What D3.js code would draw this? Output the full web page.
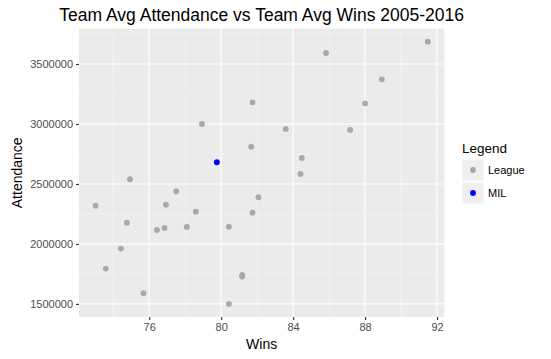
<!DOCTYPE html>
<html><head><meta charset="utf-8">
<script src="https://cdn.jsdelivr.net/npm/d3@7"></script>
<style>body{margin:0;background:#fff;} text{font-family:"Liberation Sans",Arial,Helvetica,sans-serif;}</style>
</head><body><svg id="c" width="551" height="359"></svg>
<script>
const leagueWins = [81.74,78.93,81.67,91.48,85.83,88.93,88.0,83.59,87.17,84.48,84.41,74.93,73.02,77.5,76.93,78.59,74.76,76.43,76.85,78.09,80.43,82.07,81.74,74.43,73.59,81.17,81.17,75.68,80.43];
const leagueAttendance = [3180833,3000000,2810833,3685833,3591667,3372500,3172500,2958333,2950000,2716667,2583333,2539167,2319167,2439167,2327500,2269167,2177500,2116667,2133333,2141667,2144167,2389167,2260833,1960833,1794167,1741667,1727500,1589167,1500000];
const milWins = [79.76];
const milAttendance = [2680833];
const xTicks = [76,80,84,88,92];
const yTicks = [1500000,2000000,2500000,3000000,3500000];
const legendLabels = ["League","MIL"];
const legendColors = ["#A9A9A9","#0000FF"];

const svg = d3.select("#c");
const L = 79, R = 444.3, T = 28.6, B = 317;
const allW = leagueWins.concat(milWins), allA = leagueAttendance.concat(milAttendance);
const [wmin,wmax] = d3.extent(allW), [amin,amax] = d3.extent(allA);
const ew = (wmax-wmin)*0.05, ea = (amax-amin)*0.05;
const x = d3.scaleLinear().domain([wmin-ew,wmax+ew]).range([L,R]);
const y = d3.scaleLinear().domain([amin-ea,amax+ea]).range([B,T]);

svg.append("rect").attr("x",L).attr("y",T).attr("width",R-L).attr("height",B-T).attr("fill","#EBEBEB");
const g = svg.append("g");
const xMinor = [74,78,82,86,90], yMinor = [1750000,2250000,2750000,3250000,3750000];
xMinor.forEach(v=>g.append("line").attr("x1",x(v)).attr("x2",x(v)).attr("y1",T).attr("y2",B).attr("stroke","#F7F7F7").attr("stroke-width",0.6));
yMinor.forEach(v=>g.append("line").attr("y1",y(v)).attr("y2",y(v)).attr("x1",L).attr("x2",R).attr("stroke","#F7F7F7").attr("stroke-width",0.6));
xTicks.forEach(v=>g.append("line").attr("x1",x(v)).attr("x2",x(v)).attr("y1",T).attr("y2",B).attr("stroke","#fff").attr("stroke-width",1.1));
yTicks.forEach(v=>g.append("line").attr("y1",y(v)).attr("y2",y(v)).attr("x1",L).attr("x2",R).attr("stroke","#fff").attr("stroke-width",1.1));

// axes
const xa = svg.append("g").attr("transform",`translate(0,${B})`).call(d3.axisBottom(x).tickValues(xTicks).tickSize(3).tickPadding(3).tickFormat(d3.format("d")));
const ya = svg.append("g").attr("transform",`translate(${L},0)`).call(d3.axisLeft(y).tickValues(yTicks).tickSize(3).tickPadding(3).tickFormat(d=>String(d)));
[xa,ya].forEach(a=>{a.select(".domain").remove();a.selectAll(".tick line").attr("stroke","#333333").attr("stroke-width",1.1);a.selectAll("text").attr("fill","#4D4D4D").style("font-size","11px");});

// points
svg.append("g").selectAll("circle").data(leagueWins.map((w,i)=>[w,leagueAttendance[i]])).join("circle")
  .attr("cx",d=>x(d[0])).attr("cy",d=>y(d[1])).attr("r",2.9).attr("fill","#A9A9A9");
svg.append("g").selectAll("circle").data(milWins.map((w,i)=>[w,milAttendance[i]])).join("circle")
  .attr("cx",d=>x(d[0])).attr("cy",d=>y(d[1])).attr("r",2.9).attr("fill","#0000FF");

// titles
svg.append("text").attr("x",(L+R)/2).attr("y",21).attr("text-anchor","middle").style("font-size","17.5px").attr("fill","#000").text("Team Avg Attendance vs Team Avg Wins 2005-2016");
svg.append("text").attr("x",(L+R)/2).attr("y",349).attr("text-anchor","middle").style("font-size","14px").attr("fill","#000").text("Wins");
svg.append("text").attr("transform",`translate(21.5,${(T+B)/2}) rotate(-90)`).attr("text-anchor","middle").style("font-size","14px").attr("fill","#000").text("Attendance");

// legend
const lg = svg.append("g");
lg.append("text").attr("x",462).attr("y",153).style("font-size","13.5px").attr("fill","#000").text("Legend");
legendLabels.forEach((lab,i)=>{
  const ky = 159 + i*23;
  lg.append("rect").attr("x",462).attr("y",ky).attr("width",22).attr("height",22).attr("fill","#EFEFEF").attr("stroke","#fff").attr("stroke-width",1);
  lg.append("circle").attr("cx",473).attr("cy",ky+11).attr("r",2.9).attr("fill",legendColors[i]);
  lg.append("text").attr("x",488).attr("y",ky+11).attr("dy","0.35em").style("font-size","11px").attr("fill","#000").text(lab);
});
</script></body></html>
